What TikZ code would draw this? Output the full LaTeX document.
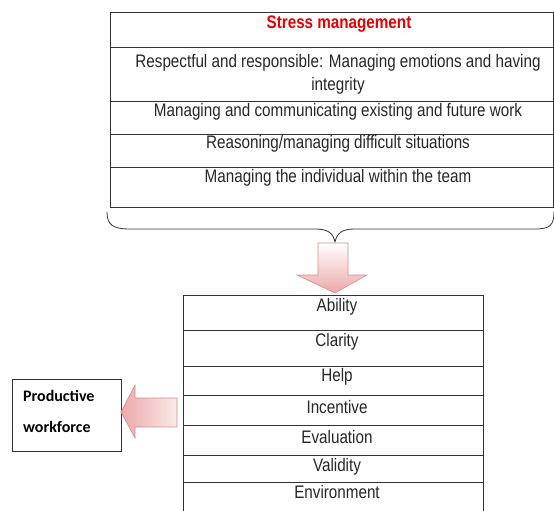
\documentclass[tikz,border=0pt]{standalone}
\usepackage{fontspec}
\setmainfont{Liberation Sans}
\newfontfamily\calibrifont{Carlito}
\definecolor{stressred}{RGB}{230,0,0}
\definecolor{arrowpink}{RGB}{236,168,168}
\definecolor{arrowedge}{RGB}{214,140,140}
\begin{document}
\begin{tikzpicture}[x=1pt, y=-1pt,
  cell/.style={draw=black!80, line width=0.8pt},
  celltext/.style={inner sep=0pt, xscale=1.05, yscale=1.25, font=\fontsize{14.5}{17}\selectfont, text=black!85},
  wftext/.style={inner sep=0pt, anchor=west, font=\calibrifont\bfseries\fontsize{16}{19}\selectfont},
  blockarrow/.style={draw=arrowedge, line width=0.6pt}]
\useasboundingbox (0,0) rectangle (554,511);

% Top table
\draw[cell] (110,12) rectangle (553,47);
\draw[cell] (110,47) rectangle (553,101);
\draw[cell] (110,101) rectangle (553,134);
\draw[cell] (110,134) rectangle (553,167);
\draw[cell] (110,167) rectangle (553,207);
\node[celltext, text=stressred, font=\fontsize{14.5}{17}\selectfont\bfseries] (head) at (339,24) {Stress management};
\node[celltext] (respect) at (338,63) {Respectful and responsible: Managing emotions and having};
\node[celltext] (integ) at (338,86) {integrity};
\node[celltext] (commun) at (338,112) {Managing and communicating existing and future work};
\node[celltext] (reason) at (338,144) {Reasoning/managing difficult situations};
\node[celltext] (team) at (338,178) {Managing the individual within the team};

% Brace
\draw[black!80, line width=0.8pt] (107,212) .. controls (107,225) and (113,229) .. (130,229) -- (315,229)
  .. controls (328,229) and (333,233) .. (335,242)
  .. controls (337,233) and (342,229) .. (355,229) -- (535,229)
  .. controls (550,229) and (554,225) .. (554,212);

% Down arrow
\draw[blockarrow, top color=white, bottom color=arrowpink] (318,243) -- (348,243) -- (348,275) -- (367,275)
  -- (335,293) -- (297,275) -- (318,275) -- cycle;

% Bottom table
\draw[cell] (183,295) rectangle (483,330);
\draw[cell] (183,330) rectangle (483,366);
\draw[cell] (183,366) rectangle (483,395);
\draw[cell] (183,395) rectangle (483,425);
\draw[cell] (183,425) rectangle (483,455);
\draw[cell] (183,455) rectangle (483,482);
\draw[cell] (183,482) rectangle (483,515);
\node[celltext] (ability) at (337,307) {Ability};
\node[celltext] (clarity) at (337,342) {Clarity};
\node[celltext] (help) at (337,377) {Help};
\node[celltext] (incent) at (337,407) {Incentive};
\node[celltext] (evalu) at (337,437) {Evaluation};
\node[celltext] (valid) at (337,467) {Validity};
\node[celltext] (environ) at (337,492) {Environment};

% Productive workforce
\draw[cell] (12,379) rectangle (121,451);
\node[wftext] (prod) at (23,396) {Productive};
\node[wftext] (work) at (23,427) {workforce};

% Left arrow
\draw[blockarrow, left color=arrowpink, right color=arrowpink!25] (177,398) -- (177,427) -- (135,427) -- (135,438)
  -- (121,412) -- (135,385) -- (135,398) -- cycle;
\end{tikzpicture}
\end{document}
